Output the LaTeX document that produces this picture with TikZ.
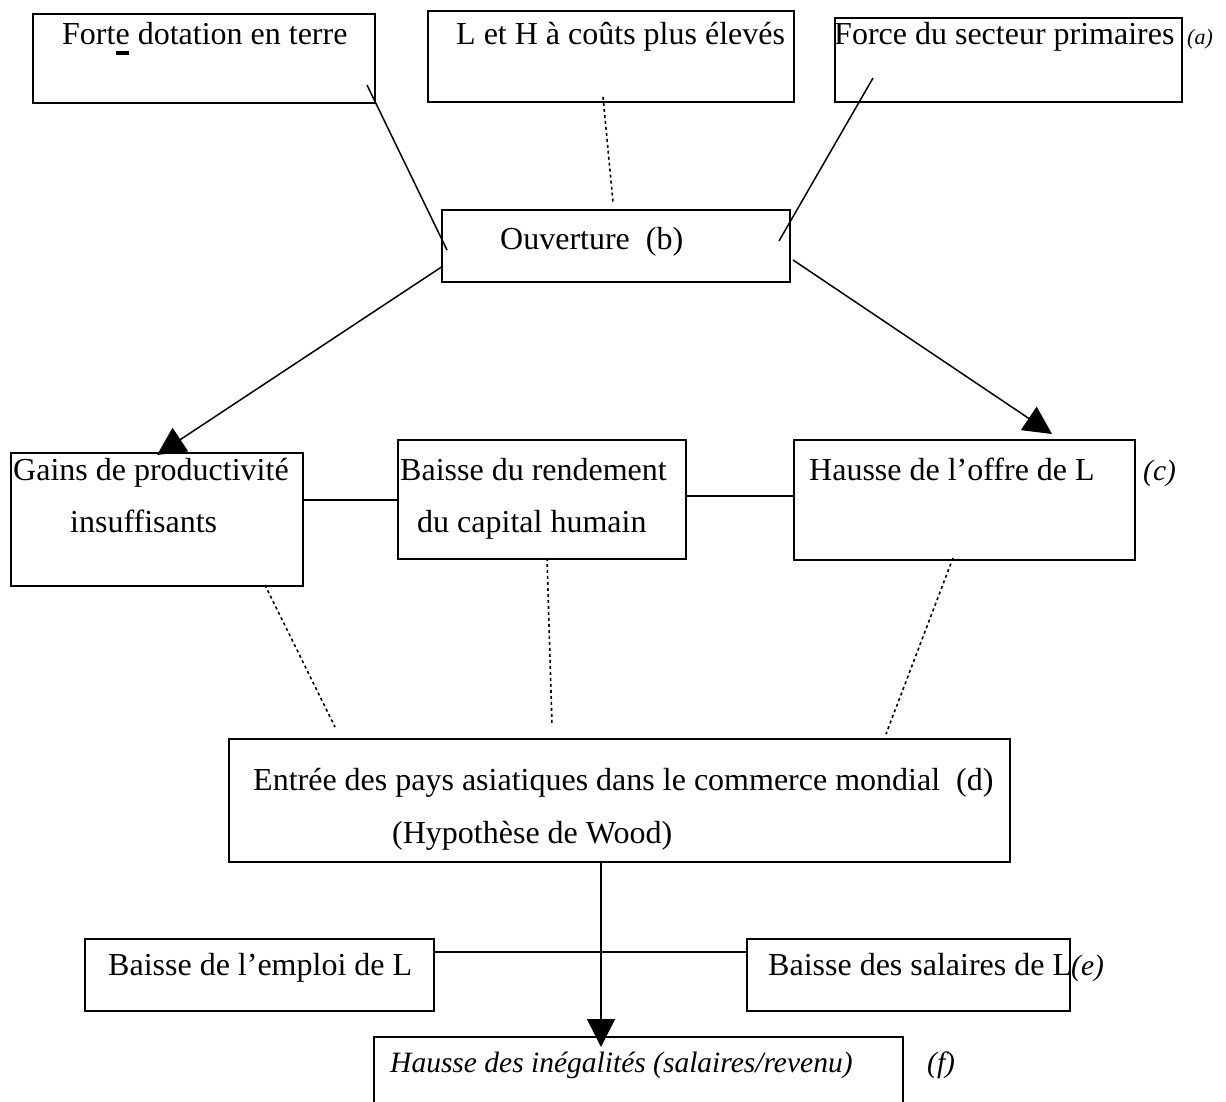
\documentclass[tikz,border=0pt]{standalone}
\usepackage{fontspec}
\setmainfont{Liberation Serif}
\usetikzlibrary{arrows.meta}
\tikzset{
  box/.style={draw, line width=1.6pt, inner sep=0pt, anchor=north west},
  lbl/.style={anchor=base west, inner sep=0pt, font=\fontsize{32}{38}\selectfont},
  ilbl/.style={anchor=base west, inner sep=0pt, font=\fontsize{29.5}{35}\selectfont\itshape},
  slbl/.style={anchor=base west, inner sep=0pt, font=\fontsize{22}{26}\selectfont\itshape},
  link/.style={line width=1.5pt},
  dots/.style={line width=1.6pt, dash pattern=on 3pt off 3pt},
  arr/.style={line width=1.5pt, -{Triangle[length=28pt,width=28pt]}},
}
\begin{document}
\begin{tikzpicture}[x=1pt,y=-1pt]
\useasboundingbox (0,0) rectangle (1226,1102);
\clip (0,0) rectangle (1226,1102);
\fill[white] (0,0) rectangle (1226,1102);

% boxes
\node[box, minimum width=342pt, minimum height=89pt] (a1) at (32,13) {};
\node[box, minimum width=366pt, minimum height=91pt] (a2) at (427,10) {};
\node[box, minimum width=347pt, minimum height=84pt] (a3) at (834,17) {};
\node[box, minimum width=348pt, minimum height=72pt] (ouv) at (441,209) {};
\node[box, minimum width=292pt, minimum height=133pt] (gains) at (10,452) {};
\node[box, minimum width=288pt, minimum height=119pt] (rend) at (397,439) {};
\node[box, minimum width=341pt, minimum height=120pt] (offre) at (793,439) {};
\node[box, minimum width=781pt, minimum height=123pt] (entree) at (228,738) {};
\node[box, minimum width=349pt, minimum height=72pt] (emploi) at (84,938) {};
\node[box, minimum width=323pt, minimum height=72pt] (sal) at (746,938) {};
\node[box, minimum width=529pt, minimum height=110pt] (ineg) at (373,1036) {};

% texts
\node[lbl] (t1) at (62,45) {Fort\makebox[0pt][l]{\rule[-0.3em]{0.42em}{0.1em}}e dotation en terre};
\node[lbl] (t2) at (456,45) {L et H à coûts plus élevés};
\node[lbl] (t3) at (834,45) {Force du secteur primaires};
\node[slbl] (ta) at (1187,45) {(a)};
\node[lbl] (tb) at (500,250) {Ouverture~ (b)};
\node[lbl] (tg1) at (13,480) {Gains de productivité};
\node[lbl] (tg2) at (70,532) {insuffisants};
\node[lbl] (tr1) at (400,480) {Baisse du rendement};
\node[lbl] (tr2) at (417,532) {du capital humain};
\node[lbl] (to) at (809,480) {Hausse de l’offre de L};
\node[ilbl] (tc) at (1143,480) {(c)};
\node[lbl] (te1) at (253,790) {Entrée des pays asiatiques dans le commerce mondial~ (d)};
\node[lbl] (te2) at (392,843) {(Hypothèse de Wood)};
\node[lbl] (tem) at (108,975) {Baisse de l’emploi de L};
\node[lbl] (tsa) at (768,975) {Baisse des salaires de L};
\node[ilbl] (tee) at (1071,975) {(e)};
\node[ilbl] (ti) at (390,1072) {Hausse des inégalités (salaires/revenu)};
\node[ilbl] (tf) at (927,1072) {(f)};

% connector end points
\coordinate (c1a) at (367,85);   \coordinate (c1b) at (447,250);
\coordinate (c2a) at (603,97);   \coordinate (c2b) at (613,202);
\coordinate (c3a) at (873,78);   \coordinate (c3b) at (779,241);
\coordinate (c4a) at (443,266);  \coordinate (c4b) at (157,455);
\coordinate (c5a) at (793,260);  \coordinate (c5b) at (1052,434);
\coordinate (c6a) at (265,585);  \coordinate (c6b) at (335,727);
\coordinate (c7a) at (547,558);  \coordinate (c7b) at (552,725);
\coordinate (c8a) at (953,558);  \coordinate (c8b) at (886,734);
\coordinate (c9b) at (601,1047);

% connectors
\draw[link] (c1a) -- (c1b);
\draw[dots] (c2a) -- (c2b);
\draw[link] (c3a) -- (c3b);
\draw[arr] (c4a) -- (c4b);
\draw[arr] (c5a) -- (c5b);
\draw[link] (gains.east |- 0,500) -- (rend.west |- 0,500);
\draw[link] (rend.east |- 0,496) -- (offre.west |- 0,496);
\draw[dots] (c6a) -- (c6b);
\draw[dots] (c7a) -- (c7b);
\draw[dots] (c8a) -- (c8b);
\draw[link] (emploi.east |- 0,952) -- (sal.west |- 0,952);
\draw[arr] (entree.south -| c9b) -- (c9b);
\end{tikzpicture}
\end{document}
